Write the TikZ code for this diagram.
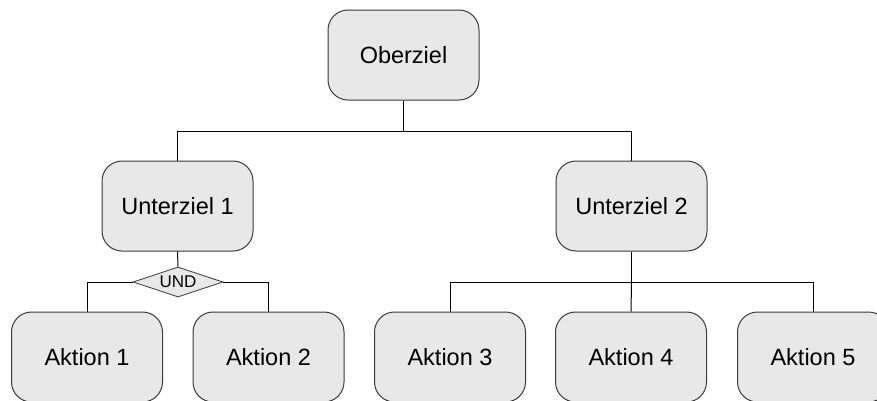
\documentclass[tikz,border=0pt]{standalone}
\usepackage{fontspec}
\setmainfont{Liberation Sans}
\usetikzlibrary{shapes.geometric}
\definecolor{boxfill}{HTML}{E8E8E8}
\definecolor{boxline}{HTML}{3A3A3A}
\tikzset{
  goalbox/.style={draw=boxline, fill=boxfill, line width=1pt, rounded corners=20pt,
    minimum width=151pt, minimum height=90pt, inner sep=0pt,
    font=\fontsize{23.5}{27}\selectfont},
  gate/.style={draw=boxline, fill=boxfill, line width=0.8pt, shape=diamond, aspect=3,
    minimum width=90pt, minimum height=30pt, inner sep=0pt,
    font=\fontsize{17}{20}\selectfont},
  link/.style={draw=black, line width=1pt}
}
\begin{document}
\begin{tikzpicture}[x=1pt, y=1pt]
  \useasboundingbox (0,0) rectangle (877,-400);

  % goal tree
  \node[goalbox] (ober) at (403.5,-55) {Oberziel};
  \node[goalbox] (u1) at (177.5,-206) {Unterziel 1};
  \node[goalbox] (u2) at (631.5,-206) {Unterziel 2};
  \node[gate] (und) at (178,-282) {UND};
  \node[goalbox] (a1) at (87,-357) {Aktion 1};
  \node[goalbox] (a2) at (268.5,-357) {Aktion 2};
  \node[goalbox] (a3) at (450,-357) {Aktion 3};
  \node[goalbox] (a4) at (631,-357) {Aktion 4};
  \node[goalbox] (a5) at (813,-357) {Aktion 5};

  % junction points
  \coordinate (j0) at (403.5,-131);
  \coordinate (j2) at (631.5,-282);

  % connectors
  \draw[link] (ober.south) -- (j0);
  \draw[link] (j0) -| (u1.north);
  \draw[link] (j0) -| (u2.north);
  \draw[link] (u1.south) -- (und.north);
  \draw[link] (und.west) -| (a1.north);
  \draw[link] (und.east) -| (a2.north);
  \draw[link] (u2.south) -- (j2);
  \draw[link] (j2) -| (a3.north);
  \draw[link] (j2) -- (a4.north);
  \draw[link] (j2) -| (a5.north);
\end{tikzpicture}
\end{document}
